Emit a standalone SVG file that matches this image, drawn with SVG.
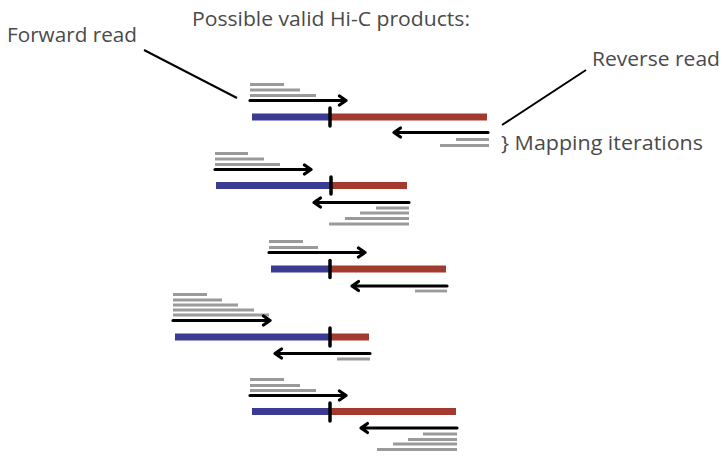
<svg xmlns="http://www.w3.org/2000/svg" width="727" height="471" viewBox="0 0 727 471">
<defs>
<style>
.t{font-family:"Open Sans","Noto Sans","Liberation Sans",sans-serif;font-size:20px;fill:#4a4a4a}
.blue{stroke:#3b3b93;stroke-width:7;fill:none}
.red{stroke:#a33a2f;stroke-width:7;fill:none}
.tick{stroke:#000;stroke-width:3.5;stroke-linecap:round;fill:none}
.ar{stroke:#000;stroke-width:3.2;fill:none;stroke-linejoin:round;stroke-linecap:round}
.g{stroke:#9a9a9a;stroke-width:2.8;fill:none}
.ln{stroke:#000;stroke-width:2;fill:none}
</style>
</defs>
<g id="labels">
<text class="t" x="192" y="26" textLength="278" lengthAdjust="spacingAndGlyphs">Possible valid Hi-C products:</text>
<text class="t" x="7" y="42" textLength="130" lengthAdjust="spacingAndGlyphs">Forward read</text>
<text class="t" x="592" y="66" textLength="128" lengthAdjust="spacingAndGlyphs">Reverse read</text>
<text class="t" x="501" y="150" textLength="202" lengthAdjust="spacingAndGlyphs">} Mapping iterations</text>
</g>
<g id="connectors">
<line class="ln" x1="144" y1="50" x2="237" y2="98"/>
<line class="ln" x1="586" y1="70" x2="502" y2="125"/>
</g>
<g id="product1">
<path class="g" d="M250 84.5H284M250 90H300M250 95.5H316"/>
<path class="ar" d="M250 100.5H346M339.5 96L346 100.5L339.5 105"/>
<path class="blue" d="M252 117H330"/>
<path class="red" d="M330 117H487"/>
<path class="tick" d="M330 108V126"/>
<path class="ar" d="M488 132.5H394M400.5 128L394 132.5L400.5 137"/>
<path class="g" d="M456 139.5H489M440 145.5H489"/>
</g>
<g id="product2">
<path class="g" d="M215 153.5H248M215 159H264M215 164.5H280"/>
<path class="ar" d="M215 169.5H311M304.5 165L311 169.5L304.5 174"/>
<path class="blue" d="M216 185.5H331"/>
<path class="red" d="M331 185.5H407"/>
<path class="tick" d="M331 177V194"/>
<path class="ar" d="M409 202.5H314M320.5 198L314 202.5L320.5 207"/>
<path class="g" d="M376 208H409M360 213H409M345 218.5H409M329 224H409"/>
</g>
<g id="product3">
<path class="g" d="M269 241.5H303M269 247.5H318"/>
<path class="ar" d="M269 252.5H365M358.5 248L365 252.5L358.5 257"/>
<path class="blue" d="M271 269H330"/>
<path class="red" d="M330 269H446"/>
<path class="tick" d="M330 260.5V277.5"/>
<path class="ar" d="M447 286H352M358.5 281.5L352 286L358.5 290.5"/>
<path class="g" d="M415 291H447"/>
</g>
<g id="product4">
<path class="g" d="M173 294.5H207M173 300H222M173 305H238M173 310H254M173 315H269"/>
<path class="ar" d="M173 320.5H270M263.5 316L270 320.5L263.5 325"/>
<path class="blue" d="M175 337H330"/>
<path class="red" d="M330 337H369"/>
<path class="tick" d="M330 328V346"/>
<path class="ar" d="M370 353.5H275M281.5 349L275 353.5L281.5 358"/>
<path class="g" d="M337 359H370"/>
</g>
<g id="product5">
<path class="g" d="M250 379.5H284M250 385.5H300M250 390.5H316"/>
<path class="ar" d="M250 395.5H346M339.5 391L346 395.5L339.5 400"/>
<path class="blue" d="M252 411.5H330"/>
<path class="red" d="M330 411.5H456"/>
<path class="tick" d="M330 403V421"/>
<path class="ar" d="M457 428H361M367.5 423.5L361 428L367.5 432.5"/>
<path class="g" d="M423 434H457M408 439.5H457M393 444H457M377 449.5H457"/>
</g>
</svg>
